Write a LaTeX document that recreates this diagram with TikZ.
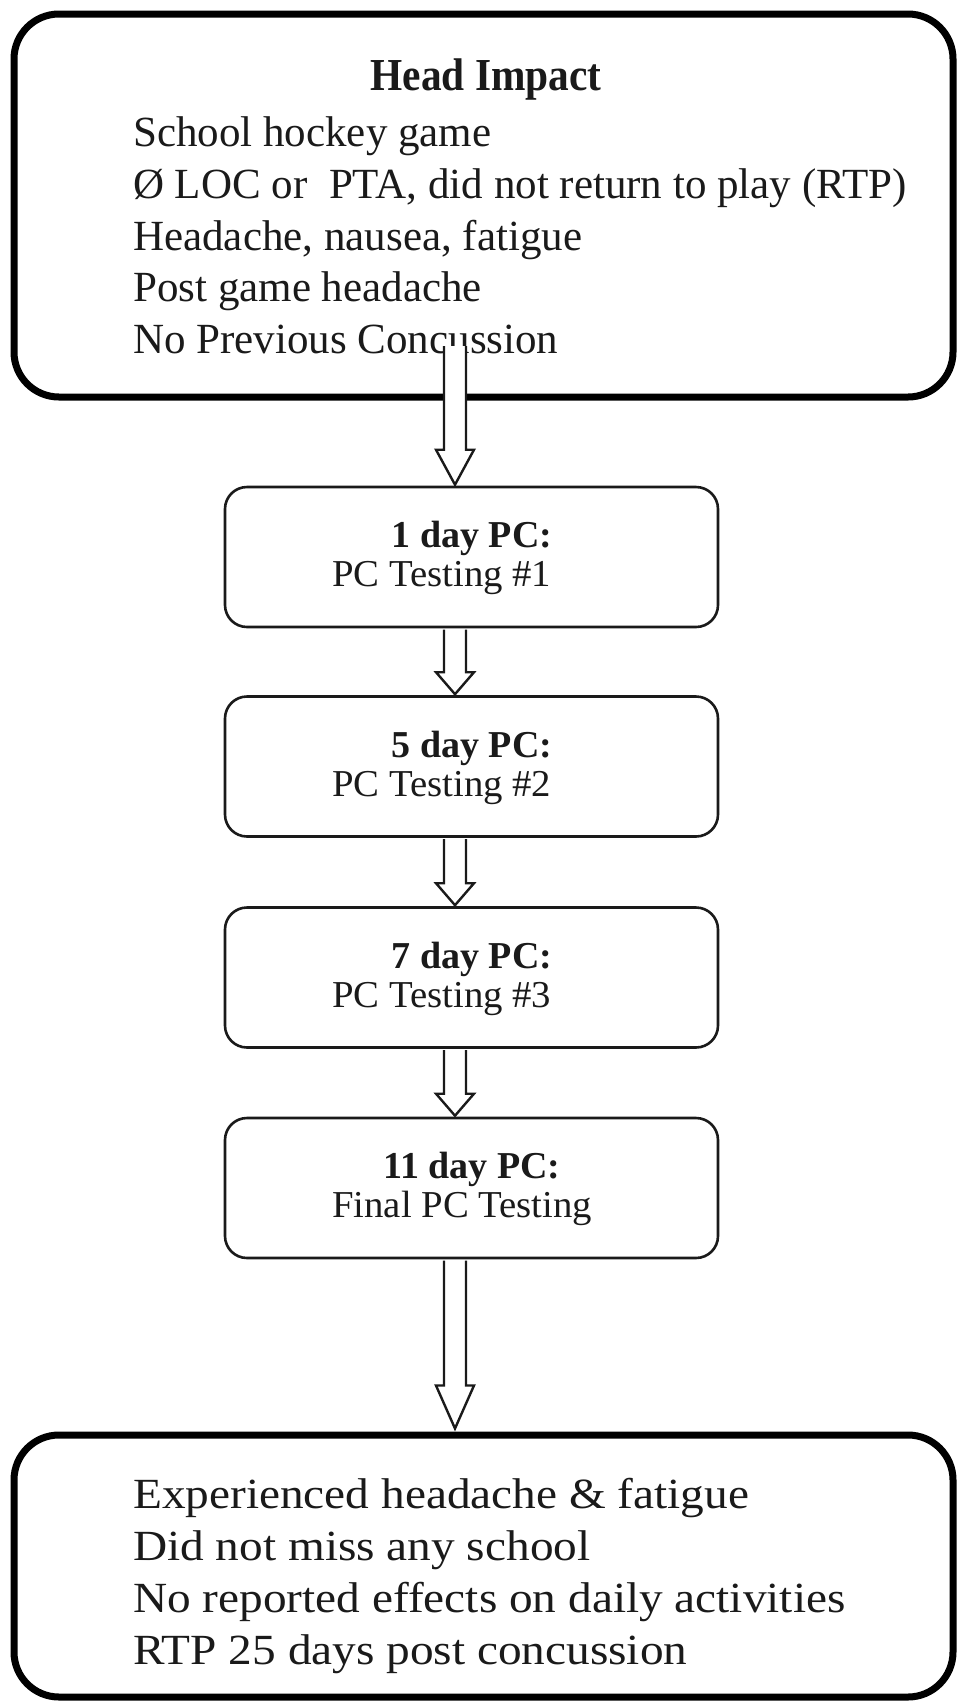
\documentclass[tikz,border=0pt]{standalone}
\usepackage{graphicx}
\usepackage{fontspec}
\setmainfont{Liberation Serif}
\usetikzlibrary{calc}
\definecolor{ink}{HTML}{1A1A1A}
\newcommand\widetxt[1]{\scalebox{1.1}[1]{#1}}
\newcommand\narrowtxt[1]{\scalebox{0.94}[1.04]{#1}}
\newcommand\testwide[1]{\scalebox{1.02}[1]{#1}}
\tikzset{
  bigbox/.style={draw=black, line width=7pt, rounded corners=45pt, inner sep=0pt},
  smallbox/.style={draw=ink, line width=2.6pt, rounded corners=22pt, inner sep=0pt,
    minimum width=493pt, minimum height=140pt},
  bigtxt/.style={anchor=base west, inner sep=0pt, text=ink, font=\fontsize{43}{52}\selectfont},
  headtxt/.style={anchor=base, inner sep=0pt, text=ink, font=\fontsize{44}{52}\selectfont\bfseries},
  daytxt/.style={anchor=base, inner sep=0pt, text=ink, font=\fontsize{38}{46}\selectfont\bfseries},
  testtxt/.style={anchor=base west, inner sep=0pt, text=ink, font=\fontsize{38}{46}\selectfont},
  arr/.style={draw=ink, fill=white, line width=2.4pt, line join=miter},
}
% #1 start point, #2 tip point, #3 head length
\newcommand\blockarrow[3]{%
  \filldraw[arr] let \p1=#1, \p2=#2 in
    (\x1-11pt,\y1) -- (\x1-11pt,\y2+#3) -- (\x1-19pt,\y2+#3) -- (\x1,\y2)
    -- (\x1+19pt,\y2+#3) -- (\x1+11pt,\y2+#3) -- (\x1+11pt,\y1);}
\begin{document}
\begin{tikzpicture}[x=1pt,y=-1pt]
\useasboundingbox (0,0) rectangle (959,1706);
\fill[white] (0,0) rectangle (959,1706);

% top box
\node[bigbox, minimum width=939pt, minimum height=383pt] (top) at (483.5,205.5) {};
\node[headtxt] (t0) at (486,90) {\narrowtxt{Head Impact}};
\node[bigtxt] (t1) at (133,146) {School hockey game};
\node[bigtxt] (t2) at (133,198) {Ø LOC or\ \ PTA, did not return to play (RTP)};
\node[bigtxt] (t3) at (133,250) {Headache, nausea, fatigue};
\node[bigtxt] (t4) at (133,301) {Post game headache};
\node[bigtxt] (t5) at (133,353) {No Previous Concussion};

% small boxes
\node[smallbox] (b1) at (471.5,557) {};
\node[daytxt] (d1) at (472,547) {1 day PC:};
\node[testtxt] (e1) at (332,586) {\testwide{PC Testing \#1}};

\node[smallbox] (b2) at (471.5,766.5) {};
\node[daytxt] (d2) at (472,757) {5 day PC:};
\node[testtxt] (e2) at (332,796) {\testwide{PC Testing \#2}};

\node[smallbox] (b3) at (471.5,977.5) {};
\node[daytxt] (d3) at (472,968) {7 day PC:};
\node[testtxt] (e3) at (332,1007) {\testwide{PC Testing \#3}};

\node[smallbox] (b4) at (471.5,1188) {};
\node[daytxt] (d4) at (472,1178) {11 day PC:};
\node[testtxt] (e4) at (332,1217) {\testwide{Final PC Testing}};

% bottom box
\node[bigbox, minimum width=939pt, minimum height=262pt] (bot) at (483.5,1566) {};
\node[bigtxt] (u1) at (133,1508) {\widetxt{Experienced headache \& fatigue}};
\node[bigtxt] (u2) at (133,1560) {\widetxt{Did not miss any school}};
\node[bigtxt] (u3) at (133,1612) {\widetxt{No reported effects on daily activities}};
\node[bigtxt] (u4) at (133,1664) {\widetxt{RTP 25 days post concussion}};

% arrows
\coordinate (a0) at (455,346);
\blockarrow{(a0)}{($(a0 |- b1.north)+(0,-1)$)}{35pt}
\blockarrow{($(a0 |- b1.south)+(0,1.3)$)}{($(a0 |- b2.north)+(0,-1)$)}{22pt}
\blockarrow{($(a0 |- b2.south)+(0,1.3)$)}{($(a0 |- b3.north)+(0,-1)$)}{22pt}
\blockarrow{($(a0 |- b3.south)+(0,1.3)$)}{($(a0 |- b4.north)+(0,-1)$)}{22pt}
\blockarrow{($(a0 |- b4.south)+(0,1.3)$)}{($(a0 |- bot.north)+(0,-3)$)}{43pt}
\end{tikzpicture}
\end{document}
